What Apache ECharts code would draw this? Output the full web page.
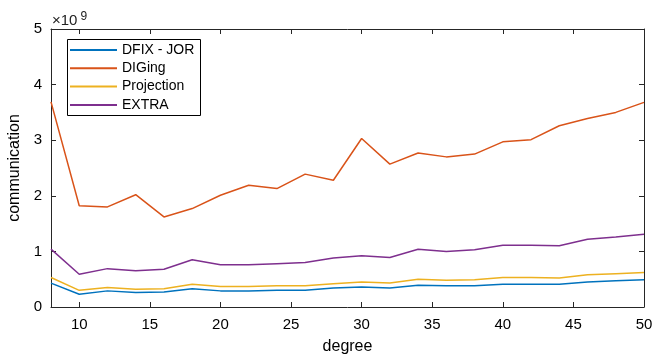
<!DOCTYPE html>
<html>
<head>
<meta charset="utf-8">
<script src="https://cdn.jsdelivr.net/npm/echarts@6/dist/echarts.min.js"></script>
<style>
html,body{margin:0;padding:0;background:#fff;}
#chart{width:669px;height:354px;}
</style>
</head>
<body>
<div id="chart"></div>
<script>
// degree values (x) and communication cost (in units of 1e9) per method
const degrees = [8,10,12,14,16,18,20,22,24,26,28,30,32,34,36,38,40,42,44,46,48,50];
const dfixJor = [0.43,0.23,0.29,0.26,0.27,0.33,0.29,0.29,0.30,0.30,0.34,0.36,0.34,0.39,0.38,0.38,0.41,0.41,0.41,0.45,0.47,0.49];
const diging = [3.69,1.82,1.80,2.02,1.62,1.77,2.01,2.19,2.13,2.39,2.28,3.03,2.57,2.77,2.70,2.75,2.97,3.01,3.26,3.39,3.50,3.68];
const projection = [0.53,0.30,0.35,0.32,0.33,0.41,0.37,0.37,0.38,0.38,0.42,0.45,0.43,0.50,0.48,0.49,0.53,0.53,0.52,0.58,0.60,0.62];
const extra = [1.04,0.59,0.69,0.65,0.68,0.85,0.76,0.76,0.78,0.80,0.88,0.92,0.89,1.04,1.00,1.03,1.11,1.11,1.10,1.22,1.26,1.31];
const xTicks = [10,15,20,25,30,35,40,45,50];
const seriesNames = ['DFIX - JOR','DIGing','Projection','EXTRA'];
const colors = ['#0072BD','#D95319','#EDB120','#7E2F8E'];

const font = 'Liberation Sans, Arial, Helvetica, sans-serif';
const axisColor = '#262626';

function pairs(ys){ return degrees.map((x,i)=>[x, ys[i]]); }

const chart = echarts.init(document.getElementById('chart'), null, {renderer:'canvas'});

const xBase = {
  type:'value', min:8, max:50,
  axisLine:{show:true, onZero:false, lineStyle:{color:axisColor, width:1}},
  splitLine:{show:false},
  axisTick:{show:true, inside:true, length:5, customValues:xTicks, lineStyle:{color:axisColor}},
};
const yBase = {
  type:'value', min:0, max:5, interval:1,
  axisLine:{show:true, onZero:false, lineStyle:{color:axisColor, width:1}},
  splitLine:{show:false},
  axisTick:{show:true, inside:true, length:5, lineStyle:{color:axisColor}},
};

chart.setOption({
  animation:false,
  backgroundColor:'#fff',
  grid:{left:51, right:25, top:29, bottom:47, containLabel:false, outerBoundsMode:'none'},
  xAxis:[
    Object.assign({}, xBase, {
      position:'bottom',
      name:'degree', nameLocation:'middle', nameGap:32,
      nameTextStyle:{fontFamily:font, fontSize:16, color:'#000'},
      axisLabel:{show:true, customValues:xTicks, fontFamily:font, fontSize:15, color:'#000', margin:10}
    }),
    Object.assign({}, xBase, {position:'top', axisLabel:{show:false}})
  ],
  yAxis:[
    Object.assign({}, yBase, {
      position:'left',
      name:'communication', nameLocation:'middle', nameGap:27,
      nameTextStyle:{fontFamily:font, fontSize:16, color:'#000'},
      axisLabel:{show:true, fontFamily:font, fontSize:15, color:'#000', margin:9}
    }),
    Object.assign({}, yBase, {position:'right', axisLabel:{show:false}})
  ],
  legend:{
    show:true, orient:'vertical', left:70, top:43,
    icon:'rect', itemWidth:47, itemHeight:2, itemGap:4.3,
    data:seriesNames,
    textStyle:{fontFamily:font, fontSize:14, color:'#000'},
    padding:0
  },
  graphic:[
    {type:'rect', left:65, top:37, shape:{width:133, height:76}, style:{fill:null, stroke:'#000', lineWidth:1}, z:100, silent:true},
    {type:'text', left:52, top:11, style:{
      text:'×10{sup|9}', fontFamily:font, fontSize:15, fill:'#222',
      rich:{sup:{fontSize:12, verticalAlign:'top', padding:[0,0,8,3], fontFamily:font, fill:'#222'}}
    }}
  ],
  series:[dfixJor, diging, projection, extra].map((ys,i)=>({
    name:seriesNames[i], type:'line', data:pairs(ys),
    xAxisIndex:0, yAxisIndex:0,
    symbol:'none', showSymbol:false,
    lineStyle:{color:colors[i], width:1.5},
    itemStyle:{color:colors[i]},
    clip:true
  }))
});
</script>
</body>
</html>
